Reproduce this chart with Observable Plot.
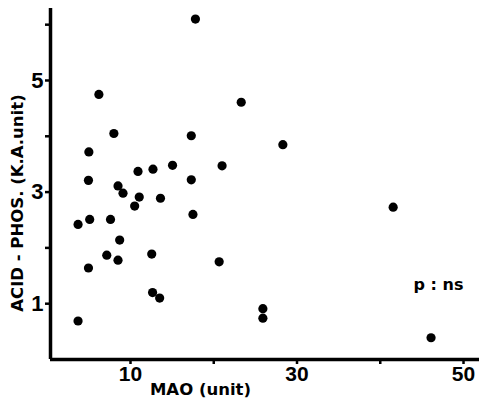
<!DOCTYPE html>
<html>
<head>
<meta charset="utf-8">
<script src="https://cdn.jsdelivr.net/npm/d3@7"></script>
<script src="https://cdn.jsdelivr.net/npm/@observablehq/plot@0.6"></script>
<style>
  html, body { margin: 0; padding: 0; background: #fff; }
  #chart svg { display: block; }
</style>
</head>
<body>
<div id="chart"></div>
<script>
// MAO (unit) values
const mao = [6.2, 8.0, 5.0, 4.95, 10.9, 12.7, 15.05, 8.5, 9.1, 11.05, 13.6, 10.5,
  3.7, 5.1, 7.6, 8.7, 7.15, 8.5, 4.95, 12.55, 12.65, 13.5, 3.7,
  17.8, 23.3, 17.3, 28.3, 21.0, 17.3, 17.5, 20.65, 25.9, 25.9, 41.55, 46.1];
// ACID-PHOS. (K.A.unit) values
const acid = [4.75, 4.05, 3.72, 3.21, 3.37, 3.41, 3.48, 3.11, 2.98, 2.91, 2.89, 2.75,
  2.42, 2.51, 2.51, 2.14, 1.87, 1.78, 1.64, 1.89, 1.20, 1.10, 0.69,
  6.10, 4.61, 4.01, 3.85, 3.47, 3.22, 2.60, 1.75, 0.91, 0.74, 2.73, 0.39];
const xTicks = [10, 20, 30, 40, 50];
const xLabels = [10, 30, 50];
const yTicks = [1, 2, 3, 4, 5, 6];
const yLabels = [1, 3, 5];
const xTitle = "MAO (unit)";
const yTitle = "ACID - PHOS. (K.A.unit)";
const note = "p : ns";

const data = mao.map((m, i) => ({mao: m, acid: acid[i]}));
const xDomain = [0.39, 51.92];
const yDomain = [0, 6.29];
const tickFont = "'Liberation Sans Narrow', 'Liberation Sans', Arial, sans-serif";
const titleFont = "'DejaVu Sans', sans-serif";

const chart = Plot.plot({
  width: 479,
  height: 412,
  marginLeft: 50,
  marginRight: 0,
  marginTop: 8,
  marginBottom: 53,
  style: {fontFamily: tickFont, fontWeight: "bold", fontSize: "21px", background: "#fff", color: "#000"},
  x: {domain: xDomain},
  y: {domain: yDomain},
  marks: [
    Plot.axisX({ticks: xTicks, tickFormat: d => xLabels.includes(d) ? String(d) : "", tickSize: 5, tickPadding: 2, strokeWidth: 2.5, label: null, fontSize: 21, fontFamily: tickFont}),
    Plot.axisY({ticks: yTicks, tickFormat: d => yLabels.includes(d) ? String(d) : "", tickSize: 5, tickPadding: 2, strokeWidth: 2.5, label: null, fontSize: 22, fontFamily: tickFont}),
    Plot.ruleX([xDomain[0]], {stroke: "#000", strokeWidth: 3.5}),
    Plot.ruleY([yDomain[0]], {stroke: "#000", strokeWidth: 3.5}),
    Plot.dot(data, {x: "mao", y: "acid", r: 4.6, fill: "#000", stroke: "none"}),
    Plot.text([yTitle], {frameAnchor: "left", textAnchor: "middle", rotate: -90, dx: -33, dy: 19, fontSize: 16.5, fontWeight: "bold", fontFamily: titleFont, fill: "#000"}),
    Plot.text([xTitle], {frameAnchor: "bottom-left", textAnchor: "middle", dx: 150, dy: 35, fontSize: 16.5, fontWeight: "bold", fontFamily: titleFont, fill: "#000"}),
    Plot.text([note], {frameAnchor: "bottom-right", textAnchor: "end", dx: -16, dy: -70, fontSize: 16, fontWeight: "bold", fontFamily: titleFont, fill: "#000"})
  ]
});
document.getElementById("chart").appendChild(chart);
</script>
</body>
</html>
